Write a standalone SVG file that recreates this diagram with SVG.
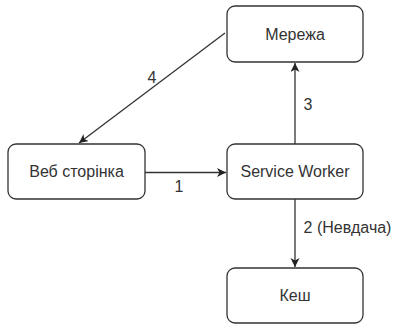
<svg xmlns="http://www.w3.org/2000/svg" width="397" height="327" viewBox="0 0 397 327">
<style>
.n{fill:#fff;stroke:#333;stroke-width:1.3}
.t{font-family:"Liberation Sans",Arial,sans-serif;font-size:16px;fill:#333;text-anchor:middle}
.l{font-family:"Liberation Sans",Arial,sans-serif;font-size:16px;fill:#333;text-anchor:middle}
.c{stroke:#333;stroke-width:1.3;fill:none;marker-end:url(#a)}
</style>
<defs>
<marker id="a" markerWidth="12" markerHeight="12" refX="9" refY="4.5" orient="auto" markerUnits="userSpaceOnUse">
<path d="M0,0 L9,4.5 L0,9 L2.5,4.5 Z" fill="#222"/>
</marker>
</defs>
<rect width="397" height="327" fill="#fff"/>
<g id="merezha"><rect class="n" x="227" y="6" width="136" height="56" rx="8"/><text class="t" x="295" y="39.5">Мережа</text></g>
<g id="veb"><rect class="n" x="8" y="144" width="137" height="55" rx="8"/><text class="t" x="76.5" y="177">Веб сторінка</text></g>
<g id="sw"><rect class="n" x="227" y="144" width="136" height="55" rx="8"/><text class="t" x="295" y="177">Service Worker</text></g>
<g id="kesh"><rect class="n" x="227" y="268" width="136" height="55" rx="8"/><text class="t" x="295" y="301">Кеш</text></g>
<g id="connectors">
<line class="c" x1="145" y1="172.5" x2="226" y2="172.5"/>
<line class="c" x1="295" y1="144" x2="295" y2="63"/>
<line class="c" x1="225" y1="33" x2="79" y2="143"/>
<line class="c" x1="295" y1="199" x2="295" y2="267"/>
<text class="l" x="179" y="192">1</text>
<text class="l" x="308" y="110">3</text>
<text class="l" x="152" y="83">4</text>
<text class="l" x="347.5" y="233">2 (Невдача)</text>
</g>
</svg>
